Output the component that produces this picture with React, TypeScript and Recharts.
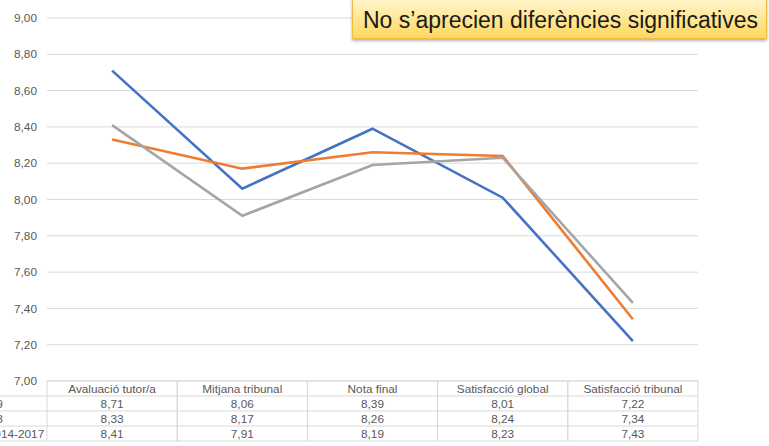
import React from 'react';
import { LineChart, Line, XAxis, YAxis, CartesianGrid } from 'recharts';

const categories = ['Avaluació tutor/a', 'Mitjana tribunal', 'Nota final', 'Satisfacció global', 'Satisfacció tribunal'];
const seriesNames = ['2018-2019', '2017-2018', 'Mitjana 2014-2017'];
const curs1819 = [8.71, 8.06, 8.39, 8.01, 7.22];
const curs1718 = [8.33, 8.17, 8.26, 8.24, 7.34];
const mitjana1417 = [8.41, 7.91, 8.19, 8.23, 7.43];
const yTicks = [7.0, 7.2, 7.4, 7.6, 7.8, 8.0, 8.2, 8.4, 8.6, 8.8, 9.0];
const calloutText = 'No s\u2019aprecien diferències significatives';

const series = [curs1819, curs1718, mitjana1417];
const COLORS = ['#4472C4', '#ED7D31', '#A5A5A5'];

const data = categories.map((name, i) => ({
  name,
  s0: curs1819[i],
  s1: curs1718[i],
  s2: mitjana1417[i],
}));

const W = 769;
const H = 446;
const MARGIN = { top: 18, right: 71, bottom: 0, left: 0 };
const Y_AXIS_W = 47;
const X_AXIS_H = 65;
const BAND = (W - Y_AXIS_W - MARGIN.right) / categories.length;
const HEADER_H = 15;
const ROW_H = 15;
const GRID = '#d9d9d9';
const TEXT = '#595959';
const FONT = '"Liberation Sans", Arial, sans-serif';
const FS = 11.8;

const fmt = (v: number) => v.toFixed(2).replace('.', ',');

function TableTick(props: any) {
  const { x, y, payload, index } = props;
  const left = x - BAND / 2;
  const rowsTop = y + HEADER_H;
  const bottom = rowsTop + ROW_H * series.length;
  return (
    <g>
      {index === 0 && (
        <g>
          {series.map((_, r) => (
            <line key={r} x1={-20} x2={left} y1={rowsTop + r * ROW_H} y2={rowsTop + r * ROW_H} stroke={GRID} />
          ))}
          <line x1={-20} x2={left} y1={bottom} y2={bottom} stroke={GRID} />
          {seriesNames.map((n, r) => (
            <text key={n} x={-53.5} y={rowsTop + r * ROW_H + ROW_H / 2 + 4} fill={TEXT} fontSize={FS} fontFamily={FONT}>
              {n}
            </text>
          ))}
        </g>
      )}
      <rect x={left} y={y} width={BAND} height={bottom - y} fill="none" stroke={GRID} />
      {series.map((_, r) => (
        <line key={r} x1={left} x2={left + BAND} y1={rowsTop + r * ROW_H} y2={rowsTop + r * ROW_H} stroke={GRID} />
      ))}
      <text x={x} y={y + HEADER_H / 2 + 4} textAnchor="middle" fill={TEXT} fontSize={FS} fontFamily={FONT}>
        {payload.value}
      </text>
      {series.map((s, r) => (
        <text key={r} x={x} y={rowsTop + r * ROW_H + ROW_H / 2 + 4} textAnchor="middle" fill={TEXT} fontSize={FS} fontFamily={FONT}>
          {fmt(s[index])}
        </text>
      ))}
    </g>
  );
}

export default function App() {
  return (
    <div style={{ position: 'relative', width: W, height: H, background: '#fff', overflow: 'hidden' }}>
      <style>{'body{margin:0}'}</style>
      <LineChart width={W} height={H} data={data} margin={MARGIN}>
        <CartesianGrid vertical={false} stroke={GRID} strokeWidth={1} />
        <XAxis
          dataKey="name"
          padding={{ left: BAND / 2, right: BAND / 2 }}
          height={X_AXIS_H}
          axisLine={false}
          tickLine={false}
          tickSize={0}
          tickMargin={0}
          interval={0}
          tick={<TableTick />}
        />
        <YAxis
          width={Y_AXIS_W}
          domain={[7, 9]}
          ticks={yTicks}
          axisLine={false}
          tickLine={false}
          tickSize={0}
          tickMargin={10}
          tickFormatter={fmt}
          tick={{ fill: TEXT, fontSize: FS, fontFamily: FONT }}
        />
        {['s0', 's1', 's2'].map((k, i) => (
          <Line
            key={k}
            dataKey={k}
            name={seriesNames[i]}
            stroke={COLORS[i]}
            strokeWidth={2.6}
            dot={false}
            isAnimationActive={false}
          />
        ))}
      </LineChart>
      <div
        style={{
          position: 'absolute',
          left: 352,
          top: -2,
          width: 415,
          height: 41,
          boxSizing: 'border-box',
          border: '1px solid #F4B942',
          background: 'linear-gradient(#FFF5CC, #FFE48A 60%, #FFD75E)',
          boxShadow: '0 2px 3px rgba(0,0,0,0.3)',
          fontFamily: FONT,
          fontSize: 23,
          color: '#1a1a1a',
          lineHeight: '42px',
          paddingLeft: 10,
          whiteSpace: 'nowrap',
        }}
      >
        {calloutText}
      </div>
    </div>
  );
}
